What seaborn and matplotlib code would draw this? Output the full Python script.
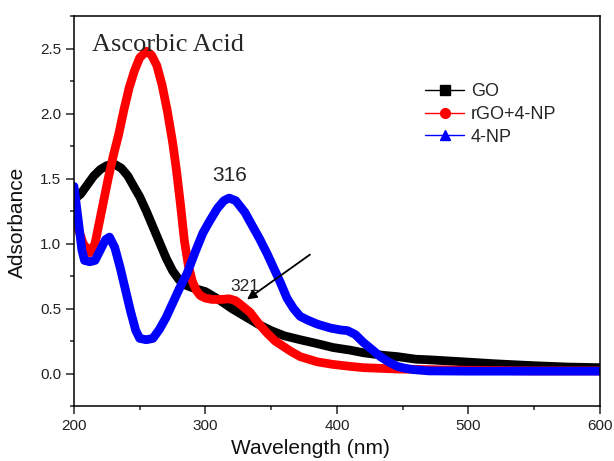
import numpy as np
import pandas as pd
import matplotlib
matplotlib.use("Agg")
import matplotlib.pyplot as plt
from matplotlib.lines import Line2D
from matplotlib.ticker import MultipleLocator
import seaborn as sns

# ── data ──────────────────────────────────────────────────
go_wl = [200, 205, 210, 215, 220, 225, 231, 236, 241, 246, 250, 255, 260, 265,
         270, 275, 280, 285, 290, 300, 310, 320, 330, 340, 350, 360, 372, 385,
         397, 410, 420, 435, 446, 460, 471, 496, 520, 550, 575, 600]
go_abs = [1.34, 1.38, 1.45, 1.52, 1.57, 1.60, 1.61, 1.58, 1.52, 1.43, 1.36, 1.25,
          1.13, 1.01, 0.89, 0.79, 0.72, 0.68, 0.66, 0.63, 0.57, 0.50, 0.44, 0.38,
          0.33, 0.29, 0.26, 0.23, 0.20, 0.18, 0.16, 0.14, 0.13, 0.11, 0.105,
          0.09, 0.075, 0.06, 0.05, 0.045]

rgo_wl = [200, 203, 207, 212, 216, 219, 222, 226, 230, 234, 238, 242, 246, 250,
          255, 259, 263, 267, 271, 275, 278, 281, 284, 287, 290, 293, 296, 300,
          305, 312, 318, 323, 328, 334, 340, 347, 353, 359, 365, 372, 385, 397,
          410, 420, 445, 470, 500, 550, 600]
rgo_abs = [1.20, 1.12, 1.00, 0.93, 1.00, 1.15, 1.30, 1.50, 1.68, 1.84, 2.03, 2.20,
           2.33, 2.43, 2.48, 2.45, 2.37, 2.22, 2.02, 1.78, 1.56, 1.30, 1.02, 0.83,
           0.71, 0.64, 0.60, 0.58, 0.57, 0.57, 0.575, 0.56, 0.52, 0.47, 0.39,
           0.31, 0.25, 0.21, 0.17, 0.13, 0.09, 0.07, 0.055, 0.045, 0.035, 0.03,
           0.025, 0.02, 0.02]

np_wl = [200, 203, 206, 208, 212, 216, 220, 224, 227, 231, 235, 239, 243, 247,
         250, 255, 260, 265, 270, 275, 280, 286, 292, 298, 303, 309, 314, 318,
         323, 330, 336, 341, 347, 352, 357, 362, 367, 372, 378, 385, 395, 403,
         408, 414, 420, 426, 433, 440, 446, 452, 458, 470, 500, 600]
np_abs = [1.44, 1.20, 0.95, 0.87, 0.86, 0.87, 0.95, 1.03, 1.05, 0.97, 0.82, 0.65,
          0.48, 0.33, 0.27, 0.26, 0.27, 0.34, 0.43, 0.54, 0.65, 0.77, 0.93, 1.08,
          1.17, 1.27, 1.33, 1.35, 1.33, 1.24, 1.13, 1.04, 0.92, 0.81, 0.70, 0.58,
          0.50, 0.44, 0.41, 0.38, 0.35, 0.335, 0.33, 0.30, 0.24, 0.19, 0.13,
          0.085, 0.055, 0.04, 0.03, 0.02, 0.018, 0.018]

series = [("GO", go_wl, go_abs, "black", "s"),
          ("rGO+4-NP", rgo_wl, rgo_abs, "#ff0000", "o"),
          ("4-NP", np_wl, np_abs, "#0000ff", "^")]

# annotation positions (data units)
peak_label = ("316", 318.6, 1.52)
shoulder_label = ("321", 330, 0.67)
arrow_tail = (379.5, 0.915)
arrow_head = (331.6, 0.57)

# ── styling ───────────────────────────────────────────────
sns.set_style("ticks")
plt.rcParams["font.family"] = ["Liberation Sans", "DejaVu Sans"]

fig = plt.figure(figsize=(6.14, 4.61), dpi=100)
ax = fig.add_axes([0.1205, 0.1193, 0.8565, 0.8457])

for name, wl, ab, col, mk in series:
    sns.lineplot(x=wl, y=ab, color=col, lw=6.3, ax=ax, legend=False,
                 solid_joinstyle="round", solid_capstyle="round")

ax.set_xlim(200, 600)
ax.set_ylim(-0.25, 2.75)
ax.xaxis.set_major_locator(MultipleLocator(100))
ax.xaxis.set_minor_locator(MultipleLocator(50))
ax.yaxis.set_major_locator(MultipleLocator(0.5))
ax.yaxis.set_minor_locator(MultipleLocator(0.25))
ax.tick_params(which="major", direction="out", length=5.5, width=1.1,
               labelsize=11, labelcolor="#222222")
ax.tick_params(which="minor", direction="out", length=3, width=1.1)
for sp in ax.spines.values():
    sp.set_linewidth(1.1)
    sp.set_color("black")

ax.set_xlabel("Wavelength (nm)", fontsize=15, color="#111111")
ax.set_ylabel("Adsorbance", fontsize=15, color="#111111")
ax.xaxis.set_label_coords(0.45, -0.085)
ax.yaxis.set_label_coords(-0.089, 0.472)

ax.text(0.034, 0.91, "Ascorbic Acid", transform=ax.transAxes,
        family=["Liberation Serif", "DejaVu Serif"], fontsize=19,
        va="baseline", ha="left")

ax.text(peak_label[1], peak_label[2], peak_label[0], fontsize=15,
        ha="center", va="center")
ax.text(shoulder_label[1], shoulder_label[2], shoulder_label[0], fontsize=12.5,
        ha="center", va="center")
ax.annotate("", xy=arrow_head, xytext=arrow_tail,
            arrowprops=dict(arrowstyle="-|>", color="black", lw=1.3,
                            mutation_scale=14, shrinkA=0, shrinkB=0))

handles = [Line2D([], [], color=col, lw=1, marker=mk, markersize=7,
                  markerfacecolor=col, markeredgecolor=col)
           for _, _, _, col, mk in series]
labels = [s[0] for s in series]
ax.legend(handles, labels, loc="upper left", bbox_to_anchor=(0.667, 0.828),
          frameon=False, fontsize=13, handlelength=2.2, handletextpad=0.35,
          labelspacing=0.32, borderpad=0, borderaxespad=0)

fig.savefig("out.png", dpi=100)
